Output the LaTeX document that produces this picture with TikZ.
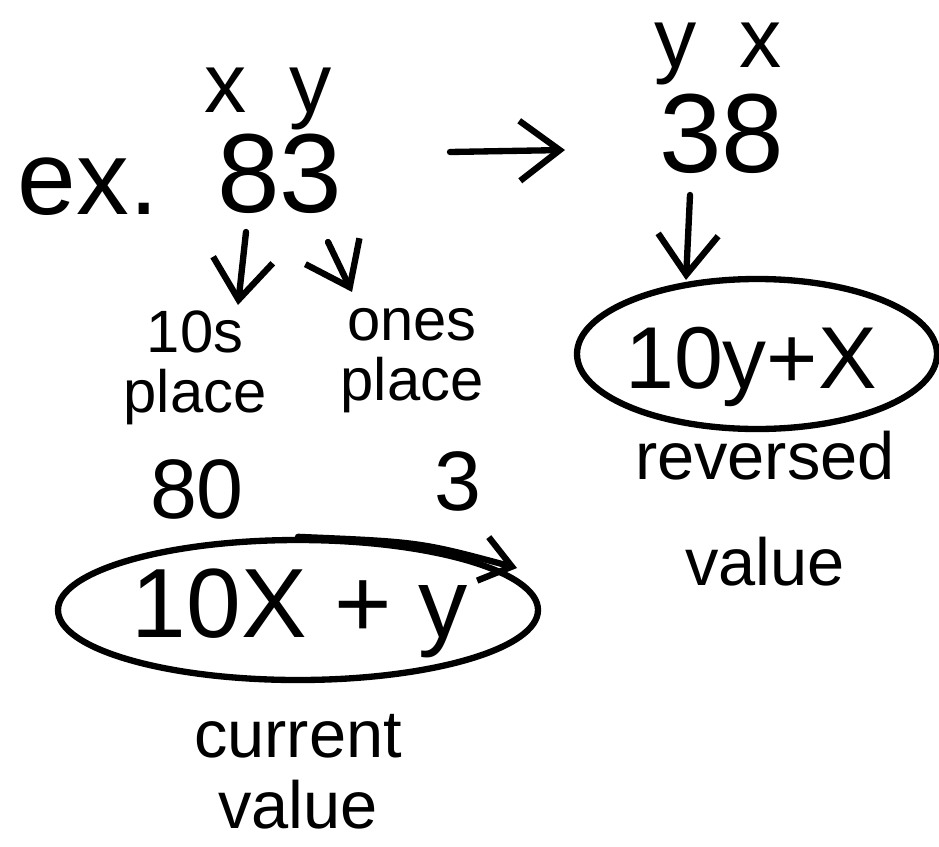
\documentclass[tikz,border=0pt]{standalone}
\usepackage{fontspec}
\setmainfont{Liberation Sans}
\usetikzlibrary{positioning,arrows.meta,calc,shapes.geometric}

\begin{document}
\begin{tikzpicture}[
  ink/.style={line width=1.8pt, line cap=round, line join=round},
  arr/.style={ink, -{Straight Barb[length=4mm, width=6mm]}},
  smallarr/.style={ink, -{Straight Barb[length=3mm, width=4.5mm]}},
  digits/.style={inner sep=0pt, anchor=base, font=\fontsize{32}{34}\selectfont},
  vars/.style={inner sep=0pt, anchor=base, font=\fontsize{24}{26}\selectfont},
  place/.style={inner sep=0pt, anchor=base, align=center,
                font=\fontsize{17}{17}\selectfont},
  expr/.style={inner sep=0pt, anchor=base, font=\fontsize{28}{30}\selectfont},
  caption/.style={inner sep=0pt, anchor=base, align=center,
                  font=\fontsize{19}{20}\selectfont},
  loop/.style={ink, draw, ellipse, inner sep=0pt},
]
\useasboundingbox (0,0) rectangle (9.39,-8.46);

% ---------- the example number and its reverse ----------
\node[vars] (xy) at (2.68,-1.13) {x\enspace y};
\node[inner sep=0pt, anchor=base, font=\fontsize{30}{32}\selectfont]
  (ex) at (0.88,-2.15) {ex.};
\node[digits] (n83) at (2.80,-2.12) {83};
\node[vars] (yx) at (7.18,-0.68) {y\enspace x};
\node[digits] (n38) at (7.22,-1.72) {38};

\coordinate (flip0) at (4.50,-1.52);
\coordinate (flip1) at (5.65,-1.50);
\draw[arr] (flip0) -- (flip1);

% ---------- place values of 83 ----------
\coordinate (tens0) at (2.46,-2.32);
\coordinate (tens1) at (2.38,-3.05);
\coordinate (ones0) at (3.28,-2.42);
\coordinate (ones1) at (3.52,-2.92);
\draw[arr] (tens0) -- (tens1);
\draw[arr] (ones0) -- (ones1);

% multi-line nodes sit on the baseline of their last line
\node[place] (tens) at (1.95,-4.12) {10s\\place};
\node[place] (ones) at (4.12,-4.00) {ones\\place};

\node[inner sep=0pt, anchor=base, font=\fontsize{24}{26}\selectfont]
  (n80) at (1.97,-5.18) {80};
\node[inner sep=0pt, anchor=base, font=\fontsize{24}{26}\selectfont]
  (n3) at (4.58,-5.10) {3};

% ---------- current value ----------
\node[loop, minimum width=4.8cm, minimum height=1.4cm] (lloop) at (2.98,-6.10) {};
\node[expr] (cur) at (3.00,-6.37) {10X + y};
\coordinate (ytip) at (5.17,-5.68);
\draw[smallarr] (lloop.north) .. controls (4.20,-5.42) .. (ytip);
\node[caption] (curlbl) at (2.98,-8.28) {current\\value};

% ---------- reversed value ----------
\coordinate (rev0) at (6.90,-1.95);
\coordinate (rev1) at (6.86,-2.80);
\draw[arr] (rev0) -- (rev1);
\node[loop, minimum width=3.6cm, minimum height=1.5cm] (rloop) at (7.57,-3.54) {};
\node[inner sep=0pt, anchor=base, font=\fontsize{25}{27}\selectfont]
  (rev) at (7.51,-3.88) {10y+X};
\node[caption] (revlbl) at (7.65,-5.85) {reversed\\[10pt]value};

\end{tikzpicture}
\end{document}
